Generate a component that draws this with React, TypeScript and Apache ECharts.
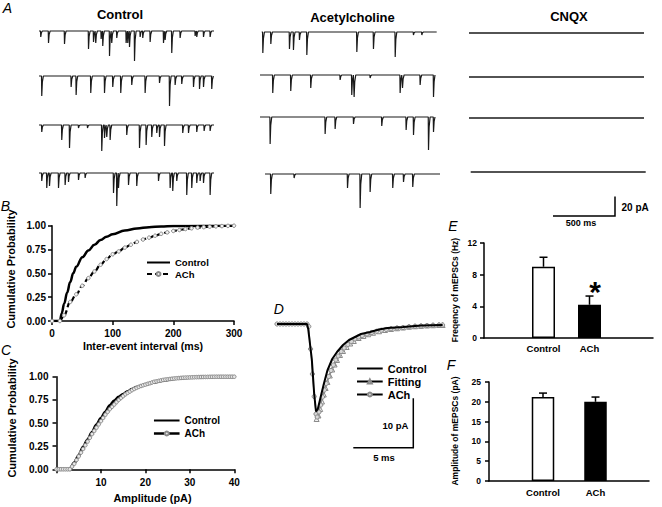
import React, { useEffect, useRef } from "react";
import * as echarts from "echarts";

const FONT = '"Liberation Sans", Arial, Helvetica, sans-serif';

// ---------------- Panel A: spontaneous events, [time (ms), amplitude (pA)] ----------------
const SWEEP_MS = 1400;
const A_TITLES = ["Control", "Acetylcholine", "CNQX"];
const CONTROL_EVENTS: number[][][] = [
  [[13, 6], [75, 12], [203, 13], [395, 18], [435, 11], [453, 12], [496, 8], [509, 15], [563, 25], [581, 12], [621, 7], [696, 12], [709, 12], [723, 16], [763, 30], [808, 6], [829, 7], [888, 11], [995, 12], [1008, 9], [1061, 22], [1128, 7], [1248, 5], [1261, 6], [1315, 6], [1368, 6]],
  [[21, 20], [256, 11], [296, 19], [413, 17], [523, 17], [589, 11], [653, 17], [741, 9], [848, 17], [963, 7], [1043, 30], [1088, 9], [1141, 8], [1235, 11], [1283, 13], [1315, 11], [1381, 13]],
  [[21, 7], [181, 15], [243, 23], [315, 3], [387, 3], [501, 26], [523, 13], [541, 12], [568, 15], [701, 10], [803, 23], [856, 20], [901, 12], [941, 8], [963, 12], [1003, 21], [1149, 8], [1195, 8], [1261, 7], [1320, 6], [1368, 6]],
  [[21, 8], [61, 15], [83, 13], [155, 15], [208, 12], [235, 9], [315, 7], [368, 5], [595, 20], [621, 33], [635, 15], [715, 12], [781, 13], [955, 8], [1048, 15], [1069, 18], [1101, 8], [1181, 22], [1221, 15], [1261, 10], [1288, 8], [1315, 10], [1368, 22]],
];
const ACH_EVENTS: number[][][] = [
  [[8, 21], [72, 12], [221, 17], [253, 18], [301, 8], [360, 23], [760, 20], [893, 17], [1067, 25], [1213, 3], [1280, 3]],
  [[101, 18], [245, 16], [405, 13], [640, 5], [733, 20], [752, 22], [880, 3], [1120, 18], [1139, 13], [1280, 10], [1387, 22]],
  [[80, 27], [520, 17], [600, 12], [747, 7], [973, 9], [1168, 13], [1227, 18], [1347, 33], [1387, 15]],
  [[45, 20], [232, 4], [659, 14], [760, 34], [840, 18], [1021, 14], [1107, 8], [1181, 13]],
];
const CNQX_EVENTS: number[][][] = [[], [], [], []];
const A_SCALE_TIME = "500 ms";
const A_SCALE_AMP = "20 pA";

// ---------------- Panel B: inter-event interval CDF ----------------
const B_X_TICKS = [0, 100, 200, 300];
const B_Y_TICKS = [0, 0.25, 0.5, 0.75, 1];
const B_CONTROL = [[0, 0], [13, 0], [16, 0.08], [20, 0.18], [25, 0.3], [30, 0.41], [35, 0.5], [40, 0.57], [50, 0.67], [60, 0.74], [70, 0.8], [80, 0.85], [90, 0.885], [100, 0.91], [120, 0.95], [140, 0.97], [160, 0.985], [180, 0.992], [200, 0.996], [250, 1], [300, 1]];
const B_ACH = [[0, 0], [13, 0], [20, 0.06], [30, 0.2], [40, 0.28], [50, 0.37], [60, 0.45], [70, 0.52], [80, 0.59], [90, 0.65], [100, 0.7], [110, 0.73], [120, 0.77], [130, 0.8], [140, 0.83], [150, 0.855], [160, 0.875], [170, 0.895], [180, 0.915], [190, 0.93], [200, 0.945], [210, 0.955], [220, 0.965], [230, 0.973], [240, 0.98], [250, 0.985], [260, 0.99], [270, 0.993], [280, 0.996], [290, 0.998], [300, 1]];

// ---------------- Panel C: amplitude CDF ----------------
const C_X_TICKS = [0, 10, 20, 30, 40];
const C_CONTROL = [[0, 0], [3, 0], [4, 0.07], [5, 0.15], [6, 0.24], [7, 0.32], [8, 0.4], [9, 0.48], [10, 0.55], [11, 0.62], [12, 0.69], [13, 0.74], [14, 0.78], [15, 0.81], [16, 0.84], [17, 0.865], [18, 0.885], [19, 0.9], [20, 0.915], [22, 0.94], [24, 0.96], [26, 0.975], [28, 0.985], [30, 0.992], [33, 0.997], [36, 1], [40, 1]];
const C_ACH = [[0, 0], [0.5, 0], [1, 0], [1.5, 0], [2, 0], [2.5, 0], [3, 0], [3.5, 0.03], [4, 0.06], [4.5, 0.1], [5, 0.14], [5.5, 0.18], [6, 0.22], [6.5, 0.26], [7, 0.3], [7.5, 0.34], [8, 0.38], [8.5, 0.415], [9, 0.45], [9.5, 0.485], [10, 0.52], [10.5, 0.555], [11, 0.59], [11.5, 0.62], [12, 0.65], [12.5, 0.675], [13, 0.7], [13.5, 0.725], [14, 0.75], [14.5, 0.77], [15, 0.79], [15.5, 0.81], [16, 0.825], [16.5, 0.84], [17, 0.855], [17.5, 0.868], [18, 0.88], [18.5, 0.89], [19, 0.9], [19.5, 0.908], [20, 0.915], [20.5, 0.923], [21, 0.93], [21.5, 0.938], [22, 0.945], [22.5, 0.95], [23, 0.955], [23.5, 0.96], [24, 0.965], [24.5, 0.969], [25, 0.972], [25.5, 0.975], [26, 0.978], [26.5, 0.981], [27, 0.983], [27.5, 0.985], [28, 0.987], [28.5, 0.989], [29, 0.99], [29.5, 0.991], [30, 0.992], [30.5, 0.993], [31, 0.994], [31.5, 0.995], [32, 0.996], [32.5, 0.9965], [33, 0.997], [33.5, 0.9975], [34, 0.998], [34.5, 0.9985], [35, 0.999], [35.5, 0.9995], [36, 1], [36.5, 1], [37, 1], [37.5, 1], [38, 1], [38.5, 1], [39, 1], [39.5, 1], [40, 1]];

// ---------------- Panel D: averaged mEPSC, [time (ms), current (pA)] ----------------
const D_CONTROL = [[0, 0], [2.5, 0], [2.6, -1], [2.9, -7], [3.1, -14], [3.25, -17.5], [3.4, -17], [3.6, -15], [3.9, -12], [4.2, -9.3], [4.6, -7], [5, -5.6], [5.5, -4.2], [6, -3.2], [6.5, -2.6], [7, -2], [7.75, -1.6], [8.5, -1.1], [9.2, -0.8], [10.5, -0.6], [12, -0.3], [13.8, -0.2]];
const D_FITTING = [[3.3, -19], [3.45, -18.3], [3.6, -17], [3.75, -15.5], [3.9, -14.1], [4.05, -12.8], [4.2, -11.6], [4.4, -10.3], [4.6, -9.1], [4.8, -8.1], [5, -7.2], [5.25, -6.2], [5.5, -5.4], [5.8, -4.6], [6.1, -3.9], [6.4, -3.4], [6.8, -2.8], [7.2, -2.4], [7.6, -2.05], [8, -1.75], [8.5, -1.45], [9, -1.2], [9.5, -1], [10, -0.85], [10.5, -0.7], [11, -0.55], [11.5, -0.45], [12, -0.38], [12.5, -0.3], [13, -0.25], [13.5, -0.2], [13.8, -0.2]];
const D_ACH = [[0, 0], [0.25, 0], [0.5, 0], [0.75, 0], [1, 0], [1.25, 0], [1.5, 0], [1.75, 0], [2, 0], [2.25, 0], [2.5, 0], [2.65, -0.5], [2.8, -5], [2.95, -10], [3.1, -14.5], [3.25, -18], [3.35, -18.6], [3.5, -17.6], [3.65, -16.2], [3.8, -14.6], [3.95, -13.2], [4.1, -11.9], [4.3, -10.5], [4.5, -9.3], [4.7, -8.2], [4.9, -7.2], [5.1, -6.4], [5.35, -5.5], [5.6, -4.8], [5.9, -4.1], [6.2, -3.5], [6.5, -3], [6.8, -2.6], [7.1, -2.3], [7.5, -2], [7.9, -1.7], [8.3, -1.45], [8.7, -1.25], [9.1, -1.1], [9.5, -0.95], [10, -0.8], [10.5, -0.7], [11, -0.55], [11.5, -0.45], [12, -0.4], [12.5, -0.3], [13, -0.25], [13.5, -0.2], [13.8, -0.2]];
const D_SCALE_AMP = "10 pA";
const D_SCALE_TIME = "5 ms";

// ---------------- Panels E & F: bar charts ----------------
const GROUPS = ["Control", "ACh"];
const FREQ_MEAN = [9.0, 4.2];
const FREQ_SEM = [1.2, 1.1];
const E_Y_TICKS = [0, 4, 8, 12];
const AMP_MEAN = [21.2, 20.0];
const AMP_SEM = [1.0, 1.2];
const F_Y_TICKS = [0, 5, 10, 15, 20, 25];

const LEGEND_TEXT: Record<string, string> = {
  bControl: "Control", bACh: "ACh",
  cControl: "Control", cACh: "ACh",
  dControl: "Control", dFitting: "Fitting", dACh: "ACh",
};

function buildTrace(events: number[][]) {
  const pts: number[][] = [[0, 0], [SWEEP_MS, 0]];
  events.forEach(([t, a]) => {
    pts.push([t - 1, 0], [t + 1, -a], [t + 6, -a * 0.3], [t + 14, 0]);
  });
  return pts.sort((p, q) => p[0] - q[0]);
}

function buildOption() {
  const grid: any[] = [];
  const xAxis: any[] = [];
  const yAxis: any[] = [];
  const series: any[] = [];
  const add = (g: any, x: any, y: any) => {
    grid.push(g);
    const i = grid.length - 1;
    xAxis.push({ ...x, gridIndex: i });
    yAxis.push({ ...y, gridIndex: i });
    return i;
  };
  const hidden = (min: number, max: number) => ({ type: "value", min, max, show: false });
  const visible = (min: number, max: number, interval: number, fontSize: number, margin: number, extraLabel: any = {}) => ({
    type: "value", min, max, interval,
    axisLine: { show: true, onZero: false, lineStyle: { color: "#000", width: 1.5 } },
    axisTick: { show: true, length: 4, lineStyle: { color: "#000", width: 1.5 } },
    axisLabel: { color: "#000", fontSize, fontWeight: "bold", fontFamily: FONT, margin, ...extraLabel },
    splitLine: { show: false },
  });

  // Panel A traces
  const traceLeft = [[39, 39, 39, 39], [261.7, 260, 260, 265], [469, 469, 469, 470.7]];
  const traceBase = [[31, 76, 125, 173], [32, 75, 117, 174], [33, 77, 118, 172]];
  [CONTROL_EVENTS, ACH_EVENTS, CNQX_EVENTS].forEach((col, c) => {
    col.forEach((events, r) => {
      const gi = add(
        { left: traceLeft[c][r], top: traceBase[c][r] - 4, width: 175, height: 40 },
        hidden(0, SWEEP_MS),
        hidden(-36, 4)
      );
      series.push({
        type: "line", xAxisIndex: gi, yAxisIndex: gi, data: buildTrace(events),
        showSymbol: false, symbol: "none", silent: true,
        lineStyle: { color: "#1a1a1a", width: c === 2 ? 1.6 : 1.2 },
      });
    });
  });

  // Panel B
  const gB = add(
    { left: 52, top: 225.7, width: 182, height: 95.3 },
    visible(B_X_TICKS[0], B_X_TICKS[B_X_TICKS.length - 1], B_X_TICKS[1] - B_X_TICKS[0], 10, 7),
    visible(B_Y_TICKS[0], B_Y_TICKS[B_Y_TICKS.length - 1], B_Y_TICKS[1] - B_Y_TICKS[0], 10, 6, { formatter: (v: number) => v.toFixed(2) })
  );
  series.push({
    name: "bControl", type: "line", xAxisIndex: gB, yAxisIndex: gB, data: B_CONTROL,
    symbol: "none", smooth: 0.4, smoothMonotone: "x",
    lineStyle: { color: "#000", width: 2.5 }, itemStyle: { color: "#000" }, z: 3,
  });
  series.push({
    name: "bACh", type: "line", xAxisIndex: gB, yAxisIndex: gB, data: B_ACH,
    symbol: "circle", symbolSize: 3.5, showAllSymbol: true, smooth: 0.4, smoothMonotone: "x",
    lineStyle: { color: "#000", width: 2.2, type: [5, 3] },
    itemStyle: { color: "#f4f4f4", borderColor: "#8a8a8a", borderWidth: 1 }, z: 4,
  });

  // Panel C
  const gC = add(
    { left: 56.5, top: 376.7, width: 177.8, height: 92.6 },
    visible(C_X_TICKS[0], C_X_TICKS[C_X_TICKS.length - 1], C_X_TICKS[1] - C_X_TICKS[0], 10, 8, { formatter: (v: number) => (v === 0 ? "" : String(v)) }),
    visible(B_Y_TICKS[0], B_Y_TICKS[B_Y_TICKS.length - 1], B_Y_TICKS[1] - B_Y_TICKS[0], 10, 8, { formatter: (v: number) => v.toFixed(2) })
  );
  series.push({
    name: "cControl", type: "line", xAxisIndex: gC, yAxisIndex: gC, data: C_CONTROL,
    symbol: "none", smooth: 0.3, smoothMonotone: "x",
    lineStyle: { color: "#000", width: 3 }, itemStyle: { color: "#000" }, z: 3,
  });
  series.push({
    name: "cACh", type: "line", xAxisIndex: gC, yAxisIndex: gC, data: C_ACH,
    symbol: "circle", symbolSize: 3.6, showAllSymbol: true, smooth: 0.3, smoothMonotone: "x",
    lineStyle: { color: "#888", width: 1 },
    itemStyle: { color: "#e8e8e8", borderColor: "#8a8a8a", borderWidth: 1 }, z: 4,
  });

  // Panel D
  const gD = add({ left: 277, top: 319, width: 168, height: 105 }, hidden(0, 14), hidden(-20, 1));
  series.push({
    name: "dControl", type: "line", xAxisIndex: gD, yAxisIndex: gD, data: D_CONTROL,
    symbol: "none", lineStyle: { color: "#000", width: 2 }, itemStyle: { color: "#000" }, z: 5,
  });
  series.push({
    name: "dFitting", type: "line", xAxisIndex: gD, yAxisIndex: gD, data: D_FITTING,
    symbol: "triangle", symbolSize: 5, showAllSymbol: true,
    lineStyle: { color: "#888", width: 1 },
    itemStyle: { color: "#f2f2f2", borderColor: "#8a8a8a", borderWidth: 1 }, z: 3,
  });
  series.push({
    name: "dACh", type: "line", xAxisIndex: gD, yAxisIndex: gD, data: D_ACH,
    symbol: "circle", symbolSize: 4.2, showAllSymbol: true,
    lineStyle: { color: "#888", width: 1 },
    itemStyle: { color: "#d8d8d8", borderColor: "#8a8a8a", borderWidth: 1 }, z: 4,
  });

  const barFill = [
    { color: "#fff", borderColor: "#000", borderWidth: 1.5 },
    { color: "#000", borderColor: "#000", borderWidth: 1.5 },
  ];
  const errRender = (_p: any, api: any) => {
    const i = api.value(0), m = api.value(1), s = api.value(2);
    const base = api.coord([i, m]);
    const top = api.coord([i, m + s]);
    const st = { stroke: "#000", lineWidth: 1.5 };
    return {
      type: "group",
      children: [
        { type: "line", shape: { x1: base[0], y1: base[1], x2: base[0], y2: top[1] }, style: st },
        { type: "line", shape: { x1: base[0] - 4, y1: top[1], x2: base[0] + 4, y2: top[1] }, style: st },
      ],
    };
  };
  const barPanel = (axisGrid: any, barGrid: any, ticks: number[], mean: number[], sem: number[], barWidth: number, labelMargin: number, tickMargin: number) => {
    const yMax = ticks[ticks.length - 1];
    const interval = ticks[1] - ticks[0];
    const gA = add(
      axisGrid,
      { type: "value", min: 0, max: 1, axisLine: { show: true, onZero: false, lineStyle: { color: "#000", width: 1.5 } }, axisTick: { show: false }, axisLabel: { show: false }, splitLine: { show: false } },
      visible(0, yMax, interval, 8.5, tickMargin)
    );
    const gBar = add(
      barGrid,
      { type: "category", data: GROUPS, axisLine: { show: false }, axisTick: { show: false }, axisLabel: { color: "#000", fontSize: 9.5, fontWeight: "bold", fontFamily: FONT, margin: labelMargin, interval: 0 } },
      hidden(0, yMax)
    );
    series.push({
      type: "bar", xAxisIndex: gBar, yAxisIndex: gBar, barWidth,
      data: mean.map((v, i) => ({ value: v, itemStyle: barFill[i] })), z: 2,
    });
    series.push({
      type: "custom", xAxisIndex: gBar, yAxisIndex: gBar, renderItem: errRender,
      data: mean.map((v, i) => [i, v, sem[i]]), encode: { x: 0, y: 1 }, z: 3,
    });
    return gA;
  };
  barPanel({ left: 484, top: 243, width: 169, height: 95 }, { left: 520.5, top: 243, width: 92, height: 95 }, E_Y_TICKS, FREQ_MEAN, FREQ_SEM, 23, 5, 7);
  barPanel({ left: 489, top: 382, width: 160, height: 99 }, { left: 516.75, top: 382, width: 105, height: 99 }, F_Y_TICKS, AMP_MEAN, AMP_SEM, 22.5, 6, 8);

  const noMarker = { opacity: 0, color: "rgba(0,0,0,0)", borderWidth: 0 };
  const legendBase = (left: number, top: number, itemWidth: number, fontSize: number, gap: number, data: any[]) => ({
    orient: "vertical", left, top, itemWidth, itemHeight: 5, itemGap: gap, padding: 0,
    selectedMode: false, data,
    formatter: (n: string) => LEGEND_TEXT[n],
    textStyle: { color: "#000", fontSize, fontWeight: "bold", fontFamily: FONT, lineHeight: fontSize },
  });
  const legend = [
    legendBase(146, 257.5, 23, 9.5, 1.5, [{ name: "bControl", itemStyle: noMarker }, { name: "bACh" }]),
    legendBase(152.7, 415.5, 25.6, 10, 3, [{ name: "cControl", itemStyle: noMarker }, { name: "cACh", lineStyle: { color: "#000", width: 2.5 } }]),
    legendBase(356, 363, 25.7, 11, 2, [
      { name: "dControl", itemStyle: noMarker },
      { name: "dFitting", lineStyle: { color: "#000", width: 2 } },
      { name: "dACh", lineStyle: { color: "#000", width: 2 } },
    ]),
  ];

  const txt = (text: string, x: number, y: number, size: number, opts: any = {}) => ({
    type: "text", x, y, rotation: opts.rotation || 0, silent: true,
    style: {
      text, fill: "#000",
      font: `${opts.italic ? "italic " : ""}${opts.weight || "bold"} ${size}px ${FONT}`,
      textAlign: opts.align || "center", textVerticalAlign: "middle",
      align: opts.align || "center", verticalAlign: "middle",
    },
  });
  const line = (points: number[][]) => ({
    type: "polyline", silent: true, shape: { points },
    style: { stroke: "#000", lineWidth: 1.5, fill: null },
  });
  const graphic = [
    txt(A_TITLES[0], 120, 14, 13),
    txt(A_TITLES[1], 352.5, 17, 13),
    txt(A_TITLES[2], 569, 16, 13),
    txt("A", 7.5, 8, 14, { italic: true, weight: "normal" }),
    txt("B", 5.5, 205.5, 14, { italic: true, weight: "normal" }),
    txt("C", 6, 350, 14, { italic: true, weight: "normal" }),
    txt("D", 278.7, 308.5, 14, { italic: true, weight: "normal" }),
    txt("E", 453, 225.5, 14, { italic: true, weight: "normal" }),
    txt("F", 451, 365, 14, { italic: true, weight: "normal" }),
    txt("Cumulative Probability", 10.5, 269, 11, { rotation: Math.PI / 2 }),
    txt("Cumulative Probability", 11.7, 418, 11, { rotation: Math.PI / 2 }),
    txt("Inter-event interval (ms)", 143, 346, 10.6),
    txt("Amplitude (pA)", 152.5, 498, 10.9),
    txt("Freqency of mEPSCs (Hz)", 455, 290, 8.5, { rotation: Math.PI / 2 }),
    txt("Amplitude of mEPSCs (pA)", 455, 431, 8.5, { rotation: Math.PI / 2 }),
    line([[553, 216], [615, 216], [615, 196.5]]),
    txt(A_SCALE_AMP, 621.5, 207, 10, { align: "left" }),
    txt(A_SCALE_TIME, 581, 223, 9),
    line([[353.3, 447.7], [413.3, 447.7], [413.3, 398.3]]),
    txt(D_SCALE_AMP, 395.5, 425, 9.5),
    txt(D_SCALE_TIME, 384, 457, 9.5),
    txt("*", 595, 291, 30),
  ];

  return {
    animation: false,
    backgroundColor: "#fff",
    textStyle: { fontFamily: FONT },
    grid, xAxis, yAxis, series, legend, graphic,
  };
}

export default function App() {
  const ref = useRef<HTMLDivElement>(null);
  useEffect(() => {
    if (!ref.current) return;
    const chart = echarts.init(ref.current, undefined, { renderer: "svg" });
    chart.setOption(buildOption() as any);
    return () => chart.dispose();
  }, []);
  return <div ref={ref} style={{ position: "absolute", left: 0, top: 0, width: 662, height: 507 }} />;
}
